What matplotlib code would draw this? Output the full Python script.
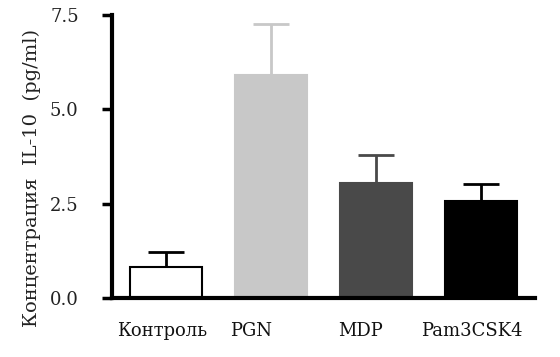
import matplotlib
matplotlib.use("Agg")
import matplotlib.pyplot as plt
import matplotlib.transforms as mtransforms

# data
groups = ["Контроль", "PGN", "MDP", "Pam3CSK4"]
means = [0.83, 5.92, 3.05, 2.57]
errors = [0.39, 1.34, 0.75, 0.45]

bar_colors = ["white", "#c8c8c8", "#494949", "black"]
label_shift_px = [-4, -20, -15, -9]

plt.rcParams["font.family"] = ["DejaVu Serif"]

fig = plt.figure(figsize=(5.6, 3.57), dpi=100)
ax = fig.add_axes([0.2, 0.165, 0.755, 0.793])

x = list(range(len(groups)))
for i in x:
    ax.bar(i, means[i], width=0.68, color=bar_colors[i],
           edgecolor="black" if i == 0 else bar_colors[i], linewidth=1.5, zorder=2)
    ax.errorbar(i, means[i], yerr=[[0], [errors[i]]], fmt="none",
                ecolor="black" if i == 0 else bar_colors[i],
                elinewidth=2, capsize=13, capthick=2, zorder=1)

ax.set_xlim(-0.514, 3.514)
ax.set_ylim(0, 7.5)
ax.set_yticks([0, 2.5, 5.0, 7.5])
ax.set_yticklabels(["0.0", "2.5", "5.0", "7.5"], fontsize=13, color="#222222")
ax.set_xticks(x)
ax.set_xticklabels(groups, fontsize=13, color="#111111")
ax.tick_params(axis="x", length=0, pad=17)
ax.tick_params(axis="y", direction="out", length=7, width=2.5, pad=17)

for lab, dx in zip(ax.get_xticklabels(), label_shift_px):
    lab.set_transform(lab.get_transform() +
                      mtransforms.ScaledTranslation(dx / 100, 0, fig.dpi_scale_trans))

ax.set_ylabel("Концентрация  IL-10  (pg/ml)", fontsize=14, color="#222222")
ax.yaxis.set_label_coords(-0.168, 0.424)

for side in ["top", "right"]:
    ax.spines[side].set_visible(False)
for side in ["left", "bottom"]:
    ax.spines[side].set_linewidth(3)

plt.savefig("out.png", dpi=100)
